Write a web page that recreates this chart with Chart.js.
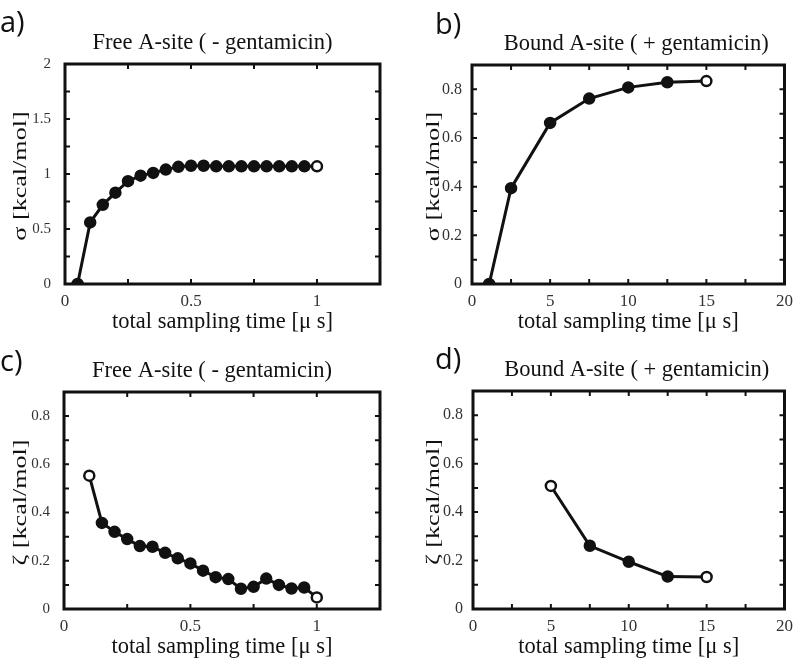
<!DOCTYPE html>
<html>
<head>
<meta charset="utf-8">
<script src="https://cdn.jsdelivr.net/npm/chart.js@4.4.0/dist/chart.umd.min.js"></script>
<style>
	body { margin: 0; background: #fff; }
	#wrap { position: relative; width: 800px; height: 664px; }
	.panel { position: absolute; width: 400px; height: 332px; }
	.panel canvas { position: absolute; left: 0; top: 0; }
	.tag { position: absolute; font-family: 'Open Sans', sans-serif; font-size: 29px; line-height: 1; color: #111; }
</style>
</head>
<body>
<div id="wrap">
	<div class="panel" style="left:0;top:0"><canvas id="chart-a" width="400" height="332"></canvas><div class="tag" style="left:0;top:6px">a)</div></div>
	<div class="panel" style="left:400px;top:0"><canvas id="chart-b" width="400" height="332"></canvas><div class="tag" style="left:35px;top:8px">b)</div></div>
	<div class="panel" style="left:0;top:332px"><canvas id="chart-c" width="400" height="332"></canvas><div class="tag" style="left:0;top:13px">c)</div></div>
	<div class="panel" style="left:400px;top:332px"><canvas id="chart-d" width="400" height="332"></canvas><div class="tag" style="left:35px;top:11px">d)</div></div>
</div>
<script>
// data
const timesFree = [0.05, 0.1, 0.15, 0.2, 0.25, 0.3, 0.35, 0.4, 0.45, 0.5, 0.55, 0.6, 0.65, 0.7, 0.75, 0.8, 0.85, 0.9, 0.95, 1.0]
const sigmaFree = [0, 0.56, 0.72, 0.83, 0.935, 0.985, 1.01, 1.04, 1.065, 1.075, 1.075, 1.07, 1.07, 1.07, 1.07, 1.07, 1.07, 1.07, 1.07, 1.07]
const timesBound = [1.1, 2.5, 5, 7.5, 10, 12.5, 15]
const sigmaBound = [0, 0.394, 0.662, 0.762, 0.808, 0.829, 0.834]
const timesFreeZeta = [0.1, 0.15, 0.2, 0.25, 0.3, 0.35, 0.4, 0.45, 0.5, 0.55, 0.6, 0.65, 0.7, 0.75, 0.8, 0.85, 0.9, 0.95, 1.0]
const zetaFree = [0.553, 0.357, 0.32, 0.29, 0.261, 0.258, 0.233, 0.21, 0.189, 0.159, 0.132, 0.124, 0.084, 0.092, 0.126, 0.1, 0.085, 0.089, 0.048]
const timesBoundZeta = [5, 7.5, 10, 12.5, 15]
const zetaBound = [0.508, 0.261, 0.195, 0.134, 0.132]

const titleFree = 'Free A-site ( - gentamicin)',
	titleBound = 'Bound A-site ( + gentamicin)',
	xTitle = 'total sampling time [\u03bc s]',
	sigmaTitle = '\u03c3 [kcal/mol]',
	zetaTitle = '\u03b6 [kcal/mol]'

const SERIF = "'Liberation Serif', 'Times New Roman', serif"

// frame, inward ticks and texts
const framePlugin = {
	id: 'frame',
	afterDraw(chart, args, opts) {
		const ctx = chart.ctx,
			{ left, right, top, bottom } = chart.chartArea,
			sx = chart.scales.x,
			sy = chart.scales.y,
			TL = 5
		ctx.save()
		ctx.strokeStyle = '#111'
		ctx.lineWidth = 2
		ctx.beginPath()
		sx.ticks.forEach((t) => {
			const px = sx.getPixelForValue(t.value)
			if (px <= left + 2 || px >= right - 2) return
			ctx.moveTo(px, bottom); ctx.lineTo(px, bottom - TL)
			ctx.moveTo(px, top); ctx.lineTo(px, top + TL)
		})
		sy.ticks.forEach((t) => {
			const py = sy.getPixelForValue(t.value)
			if (py <= top + 2 || py >= bottom - 2) return
			ctx.moveTo(left, py); ctx.lineTo(left + TL, py)
			ctx.moveTo(right, py); ctx.lineTo(right - TL, py)
		})
		ctx.stroke()
		ctx.lineWidth = 3
		ctx.strokeRect(left, top, right - left, bottom - top)

		ctx.fillStyle = '#111'
		ctx.textAlign = 'center'
		ctx.textBaseline = 'middle'
		ctx.font = `22.5px ${SERIF}`
		ctx.fillText(opts.title, (left + right) / 2 + opts.titleShift, top - 21)
		ctx.fillText(opts.xTitle, (left + right) / 2, bottom + 38)
		// y title: the source stretches it along the axis
		ctx.font = `18px ${SERIF}`
		ctx.translate(opts.yTitleX, (top + bottom) / 2 + 2)
		ctx.rotate(-Math.PI / 2)
		ctx.scale(1.45, 1)
		ctx.fillText(opts.yTitle, 0, 0)
		ctx.restore()
	},
}

function labelEvery(step) {
	return (v) => {
		const k = v / step
		return Math.abs(k - Math.round(k)) < 1e-6 ? String(Math.round(v * 100) / 100) : ''
	}
}

function makeChart(id, cfg) {
	const points = cfg.xs.map((x, i) => ({ x, y: cfg.ys[i] })),
		fills = cfg.xs.map((x, i) => (cfg.open.includes(i) ? '#fff' : '#111')),
		area = cfg.area
	return new Chart(document.getElementById(id), {
		type: 'scatter',
		data: {
			datasets: [{
				data: points,
				showLine: true,
				borderColor: '#111',
				borderWidth: 3,
				pointRadius: 5,
				pointBorderWidth: 2.5,
				pointBackgroundColor: fills,
				pointBorderColor: '#111',
			}],
		},
		options: {
			responsive: false,
			animation: false,
			layout: { padding: { left: 0, top: area.top, right: 400 - area.right, bottom: 0 } },
			plugins: {
				legend: { display: false },
				tooltip: { enabled: false },
				frame: { title: cfg.title, titleShift: cfg.titleShift, xTitle, yTitle: cfg.yTitle, yTitleX: cfg.yTitleX },
			},
			scales: {
				x: {
					type: 'linear',
					min: cfg.xMin, max: cfg.xMax,
					grid: { display: false, drawTicks: false },
					border: { display: false },
					afterFit: (s) => { s.height = 332 - area.bottom },
					ticks: {
						stepSize: cfg.xStep, autoSkip: false, maxRotation: 0, padding: 7,
						color: '#333', font: { family: SERIF, size: 17 },
						callback: labelEvery(cfg.xLabelStep),
					},
				},
				y: {
					min: 0, max: cfg.yMax,
					grid: { display: false, drawTicks: false },
					border: { display: false },
					afterFit: (s) => { s.width = area.left },
					ticks: {
						stepSize: cfg.yStep, autoSkip: false, padding: cfg.yPad,
						color: '#333', font: { family: SERIF, size: cfg.yFont },
						callback: labelEvery(cfg.yLabelStep),
					},
				},
			},
		},
		plugins: [framePlugin],
	})
}

makeChart('chart-a', {
	xs: timesFree, ys: sigmaFree, open: [timesFree.length - 1],
	area: { left: 65, right: 380, top: 64, bottom: 284 },
	xMin: 0, xMax: 1.25, xStep: 0.25, xLabelStep: 0.5,
	yMax: 2, yStep: 0.25, yLabelStep: 0.5, yPad: 14, yFont: 15,
	title: titleFree, titleShift: -10, yTitle: sigmaTitle, yTitleX: 21,
})
makeChart('chart-b', {
	xs: timesBound, ys: sigmaBound, open: [timesBound.length - 1],
	area: { left: 72, right: 387, top: 65, bottom: 284 },
	xMin: 0, xMax: 20, xStep: 2.5, xLabelStep: 5,
	yMax: 0.9, yStep: 0.1, yLabelStep: 0.2, yPad: 10, yFont: 16,
	title: titleBound, titleShift: 8, yTitle: sigmaTitle, yTitleX: 34,
})
makeChart('chart-c', {
	xs: timesFreeZeta, ys: zetaFree, open: [0, timesFreeZeta.length - 1],
	area: { left: 64, right: 380, top: 60, bottom: 277 },
	xMin: 0, xMax: 1.25, xStep: 0.25, xLabelStep: 0.5,
	yMax: 0.9, yStep: 0.1, yLabelStep: 0.2, yPad: 14, yFont: 15,
	title: titleFree, titleShift: -10, yTitle: zetaTitle, yTitleX: 21,
})
makeChart('chart-d', {
	xs: timesBoundZeta, ys: zetaBound, open: [0, timesBoundZeta.length - 1],
	area: { left: 73, right: 388, top: 59, bottom: 277 },
	xMin: 0, xMax: 20, xStep: 2.5, xLabelStep: 5,
	yMax: 0.9, yStep: 0.1, yLabelStep: 0.2, yPad: 10, yFont: 16,
	title: titleBound, titleShift: 8, yTitle: zetaTitle, yTitleX: 34,
})
</script>
</body>
</html>
